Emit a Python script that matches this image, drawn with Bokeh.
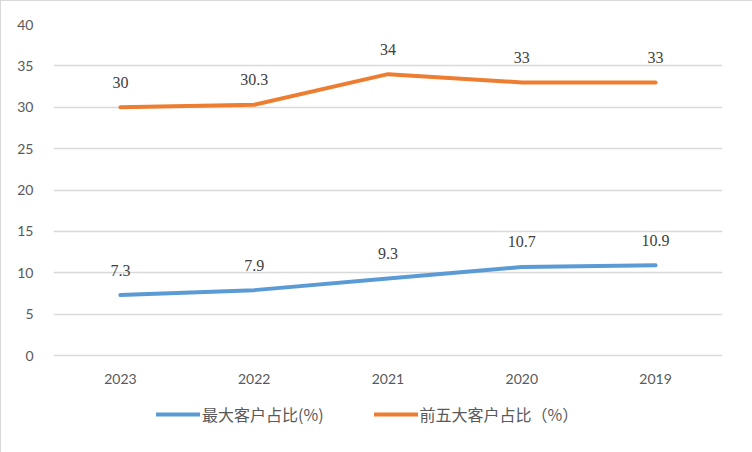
from bokeh.plotting import figure
from bokeh.models import FactorRange, Range1d, Legend, LegendItem, ColumnDataSource, LabelSet, FixedTicker
from bokeh.embed import file_html
from bokeh.resources import INLINE

years = ["2023", "2022", "2021", "2020", "2019"]
largest = [7.3, 7.9, 9.3, 10.7, 10.9]
top5 = [30, 30.3, 34, 33, 33]
y_ticks = [0, 5, 10, 15, 20, 25, 30, 35, 40]
name_largest = "最大客户占比(%)"
name_top5 = "前五大客户占比（%）"

BLUE = "#5B9BD5"
ORANGE = "#ED7D31"
NUM_FONT = "Lato"
CJK_FONT = "Noto Sans CJK SC"

PX_PER_UNIT = 331 / 40.0
FRAME_H = 429
y_lo = y_ticks[-1] - FRAME_H / PX_PER_UNIT

p = figure(x_range=FactorRange(*years, range_padding=0), y_range=Range1d(y_lo, y_ticks[-1]),
           frame_width=669, frame_height=FRAME_H,
           output_backend="svg", toolbar_location=None,
           min_border_left=52, min_border_top=23, min_border_right=31, min_border_bottom=0)
p.styles = {"border": "1px solid #D9D9D9", "box-sizing": "border-box"}
p.outline_line_color = None
p.background_fill_color = "white"
p.border_fill_color = "white"

p.xgrid.grid_line_color = None
p.ygrid.grid_line_color = "#D9D9D9"
p.ygrid.grid_line_width = 1.3

p.yaxis.ticker = FixedTicker(ticks=y_ticks)
p.xaxis.fixed_location = 0
for ax in (p.xaxis, p.yaxis):
    ax.axis_line_color = None
    ax.major_tick_line_color = None
    ax.minor_tick_line_color = None
    ax.major_label_text_font = NUM_FONT
    ax.major_label_text_font_size = "14px"
    ax.major_label_text_color = "#595959"
p.xaxis.major_label_standoff = 12
p.yaxis.major_label_standoff = 14

src = ColumnDataSource(dict(x=years, a=largest, b=top5,
                            al=[str(v) for v in largest], bl=[str(v) for v in top5]))

r1 = p.line("x", "a", source=src, line_color=BLUE, line_width=4, line_cap="round", line_join="round")
r2 = p.line("x", "b", source=src, line_color=ORANGE, line_width=4, line_cap="round", line_join="round")

for col, lab in (("a", "al"), ("b", "bl")):
    ls = LabelSet(x="x", y=col, text=lab, source=src, text_align="center", text_baseline="middle",
                  y_offset=25, text_font=NUM_FONT, text_font_size="16px", text_color="#404040")
    p.add_layout(ls)

legend = Legend(items=[LegendItem(label=name_largest, renderers=[r1]),
                       LegendItem(label=name_top5, renderers=[r2])],
                orientation="horizontal", location=(103, 27),
                label_text_font=CJK_FONT, label_text_font_size="16px", label_text_color="#595959",
                glyph_width=44, glyph_height=20, label_standoff=2, spacing=50,
                border_line_color=None, background_fill_alpha=0, margin=0, padding=6)
p.add_layout(legend, "center")

open("out.html", "w").write(file_html(p, INLINE))
